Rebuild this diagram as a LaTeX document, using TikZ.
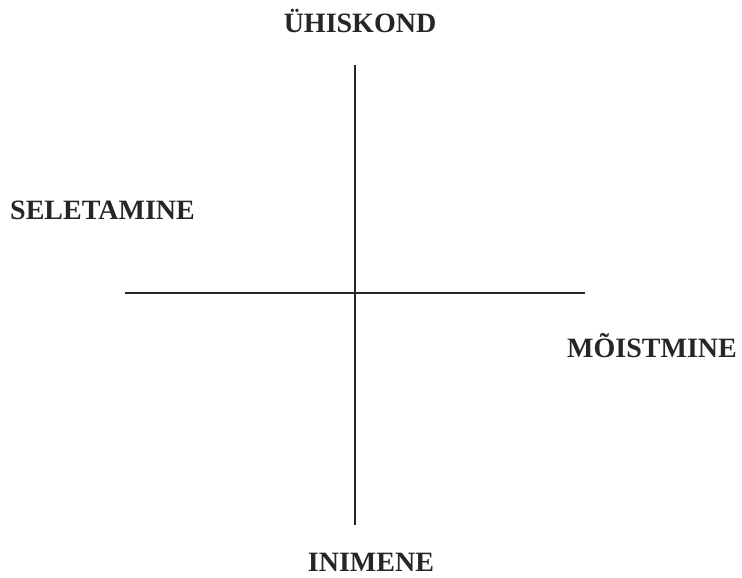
\documentclass[tikz,border=0pt]{standalone}
\usepackage{fontspec}
\setmainfont{Liberation Serif}
\usetikzlibrary{positioning}

\begin{document}
\begin{tikzpicture}[
  x=1pt,y=-1pt,
  pole/.style={font=\fontsize{28}{32}\selectfont\bfseries,inner sep=0pt,text=black!85},
  axis/.style={line width=1.8pt,black!85}
]
  \useasboundingbox (0,0) rectangle (742,578);
  \coordinate (axis-top) at (355,65);
  \coordinate (axis-bottom) at (355,525);
  \coordinate (axis-left) at (125,293);
  \coordinate (axis-right) at (585,293);

  \draw[axis] (axis-top) -- (axis-bottom);
  \draw[axis] (axis-left) -- (axis-right);

  \node[pole,anchor=base] (society) at (360,33) {ÜHISKOND};
  \node[pole,anchor=base west] (explaining) at (10,219) {SELETAMINE};
  \node[pole,anchor=base east] (understanding) at (737,357) {MÕISTMINE};
  \node[pole,anchor=base] (person) at (371,571) {INIMENE};
\end{tikzpicture}
\end{document}
